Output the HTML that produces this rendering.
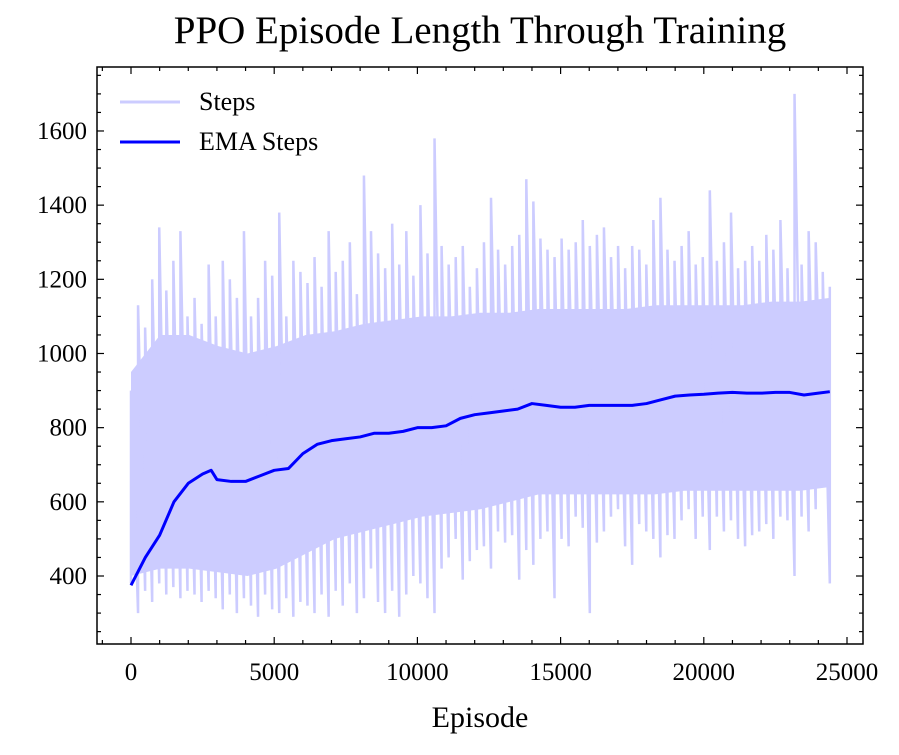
<!DOCTYPE html>
<html><head><meta charset="utf-8"><style>
body{margin:0;background:#fff;}
svg text{font-family:"Liberation Serif",serif;fill:#000;}
</style></head><body>
<svg id="chart" width="899" height="750" xmlns="http://www.w3.org/2000/svg">
<text x="480" y="43" font-size="39" text-anchor="middle">PPO Episode Length Through Training</text>
<text x="480" y="727" font-size="30" text-anchor="middle">Episode</text>
<g id="plot"></g>
<g id="axes"></g>
<g>
<line x1="120" y1="102" x2="180" y2="102" stroke="#ccccff" stroke-width="3"/>
<text x="199" y="110" font-size="26">Steps</text>
<line x1="120" y1="142" x2="180" y2="142" stroke="#0000ff" stroke-width="3"/>
<text x="199" y="150" font-size="26">EMA Steps</text>
</g>
</svg>
<script>
const xTicks=[0,5000,10000,15000,20000,25000];
const yTicks=[400,600,800,1000,1200,1400,1600];
const lastEpisode=24400;
const coreHi=[950,1050,1050,1020,1000,1020,1050,1060,1080,1090,1100,1100,1110,1110,1120,1120,1120,1120,1130,1130,1130,1130,1140,1140,1150];
const coreLo=[400,420,420,410,400,420,460,500,520,540,560,570,580,600,620,620,620,620,620,630,630,630,630,630,640];
const stepsHi=[900,1130,1070,1200,1340,1170,1250,1330,1100,1150,
1080,1240,1100,1250,1200,1150,1330,1100,1150,1250,
1210,1380,1100,1250,1220,1190,1260,1180,1330,1220,
1250,1300,1160,1480,1330,1270,1230,1350,1240,1330,
1210,1400,1270,1580,1290,1240,1260,1290,1180,1230,
1300,1420,1280,1240,1290,1320,1470,1410,1310,1280,
1260,1310,1280,1300,1360,1290,1320,1340,1260,1290,
1230,1290,1280,1240,1360,1420,1280,1250,1290,1330,
1240,1260,1440,1250,1300,1380,1230,1250,1290,1250,
1320,1280,1360,1230,1700,1240,1330,1300,1220,1180];
const stepsLo=[380,300,360,330,380,350,370,340,360,350,
330,360,340,310,350,300,340,320,290,350,
310,300,340,290,330,320,300,350,290,360,
320,380,300,340,420,330,300,360,290,350,
400,380,340,300,420,450,500,390,440,470,
480,420,520,490,510,390,470,430,500,520,
340,500,480,560,530,300,490,520,560,580,
480,430,540,520,500,450,510,500,550,580,
500,560,470,560,520,550,500,480,510,520,
540,500,560,550,400,560,520,580,640,380];
const emaEpisodes=[0,500,1000,1500,2000,2500,2800,3000,3500,4000,4500,5000,5500,6000,6500,7000,7500,8000,8500,9000,9500,10000,10500,11000,11500,12000,12500,13000,13500,14000,14500,15000,15500,16000,16500,17000,17500,18000,18500,19000,19500,20000,20500,21000,21500,22000,22500,23000,23500,24000,24400];
const emaValues=[375,450,510,600,650,675,685,660,655,655,670,685,690,730,755,765,770,775,785,785,790,800,800,805,825,835,840,845,850,865,860,855,855,860,860,860,860,865,875,885,888,890,893,895,893,893,895,895,888,893,897];

const L=97,R=863,T=67,B=644;
const X=v=>131+v*(143.2/5000);
const Y=v=>576-(v-400)*(74.17/200);
const NS="http://www.w3.org/2000/svg";
const plot=document.getElementById('plot'),axes=document.getElementById('axes');
function mk(t,p,a){const e=document.createElementNS(NS,t);for(const k in a)e.setAttribute(k,a[k]);p.appendChild(e);return e;}

let d="";
coreHi.forEach((v,i)=>{d+=(i?"L":"M")+X(i*lastEpisode/(coreHi.length-1))+" "+Y(v);});
for(let i=coreLo.length-1;i>=0;i--)d+="L"+X(i*lastEpisode/(coreLo.length-1))+" "+Y(coreLo[i]);
const band=mk('path',plot,{d:d+"Z",fill:"#ccccff"});


let s="";
stepsHi.forEach((v,i)=>{const x=X(i*lastEpisode/(stepsHi.length-1));s+=(i?"L":"M")+x+" "+Y(stepsLo[i])+"L"+x+" "+Y(v);});
const sp=mk('path',plot,{d:s,fill:"none",stroke:"#ccccff","stroke-width":2.5});


let e="";
emaValues.forEach((v,i)=>{e+=(i?"L":"M")+X(emaEpisodes[i])+" "+Y(v);});
const em=mk('path',plot,{d:e,fill:"none",stroke:"#0000ff","stroke-width":3,"stroke-linejoin":"round"});



const fr=mk('rect',axes,{x:L,y:T,width:R-L,height:B-T,fill:"none",stroke:"#000","stroke-width":1.5});


for(let v=-1000;v<=26000;v+=1000){const x=X(v);if(x<L||x>R)continue;const len=v%5000===0?7:4;
mk('line',axes,{x1:x,y1:B,x2:x,y2:B-len,stroke:"#000","stroke-width":1.2});
mk('line',axes,{x1:x,y1:T,x2:x,y2:T+len,stroke:"#000","stroke-width":1.2});}
xTicks.forEach(v=>{const t=mk('text',axes,{x:X(v),y:B+36,"font-size":25,"text-anchor":"middle"});t.textContent=v;

});
for(let v=200;v<=1800;v+=50){const y=Y(v);if(y<T||y>B)continue;const len=v%200===0?7:4;
mk('line',axes,{x1:L,y1:y,x2:L+len,y2:y,stroke:"#000","stroke-width":1.2});
mk('line',axes,{x1:R,y1:y,x2:R-len,y2:y,stroke:"#000","stroke-width":1.2});}
yTicks.forEach(v=>{const t=mk('text',axes,{x:L-10,y:Y(v)+8,"font-size":25,"text-anchor":"end"});t.textContent=v;

});
</script>
</body></html>
